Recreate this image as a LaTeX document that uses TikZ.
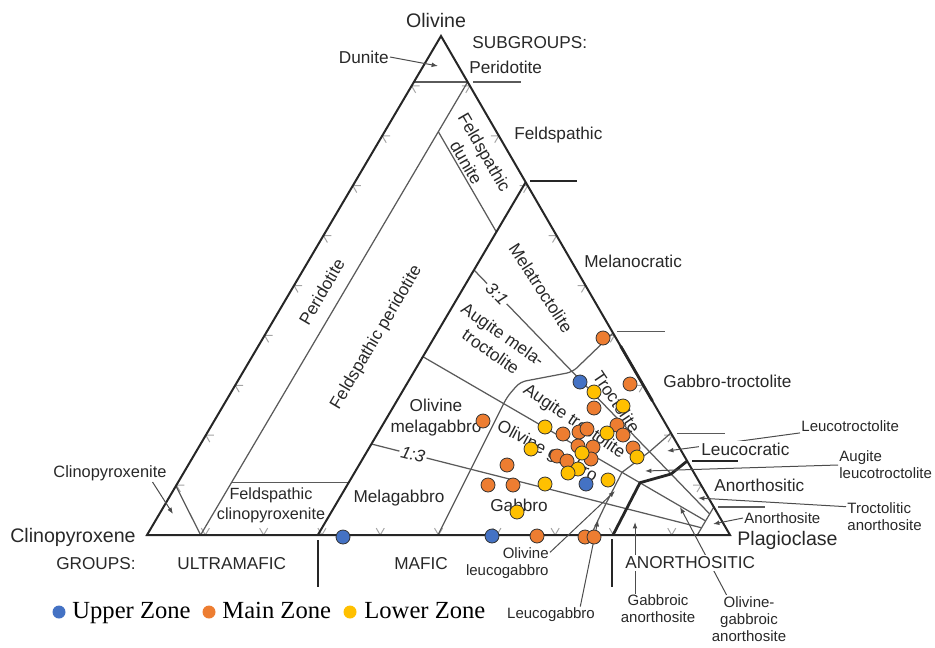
\documentclass[tikz,border=0pt]{standalone}
\usepackage{fontspec}
\setmainfont{Liberation Sans}
\newfontfamily\legendfont{Liberation Serif}
\usetikzlibrary{arrows.meta}

\definecolor{zoneUp}{RGB}{68,114,196}
\definecolor{zoneMain}{RGB}{237,125,49}
\definecolor{zoneLow}{RGB}{255,192,0}
\definecolor{txt}{RGB}{40,40,40}
\definecolor{grid}{RGB}{90,90,90}
\definecolor{tickgray}{RGB}{165,165,165}

\begin{document}
\begin{tikzpicture}[
    x=0.5pt,
    y=-0.5pt,
    >={Latex[length=3.2pt,width=2.4pt]},
    rim/.style={line width=1pt, black!85},
    divide/.style={line width=0.62pt, grid},
    heavy/.style={line width=1.4pt, black!85},
    chev/.style={line width=0.5pt, tickgray},
    ptr/.style={->, line width=0.5pt, black!70},
    lab/.style={font=\fontsize{8.6}{10.5}\selectfont, text=txt, inner sep=0.5pt, align=center},
    big/.style={lab, font=\fontsize{9.8}{11}\selectfont},
    sml/.style={lab, font=\fontsize{7.5}{8.6}\selectfont},
    cut/.style={fill=white, inner sep=1pt},
    ratio/.style={lab, cut, font=\fontsize{8.6}{10}\selectfont\itshape},
    sample/.style={draw=black!80, line width=0.4pt},
    key/.style={circle, minimum size=6.5pt, inner sep=0pt},
    keytext/.style={font=\legendfont\fontsize{12.3}{14}\selectfont, text=black, inner sep=0pt}
  ]
  \useasboundingbox (0,0) rectangle (935,647);
  \coordinate (Cpx) at (147,535);
  \coordinate (Ol) at (441,36);
  \coordinate (Pl) at (730,535);

  \foreach \k in {1,...,9} {
    \draw[chev] ({147+29.4*\k+8},{535-49.9*\k}) -- ++(-8,0) -- ++(4,6.9);
    \draw[chev] ({441+28.9*\k-8},{36+49.9*\k}) -- ++(8,0) -- ++(-4.1,6.9);
    \draw[chev] ({147+58.3*\k-4},528.1) -- ++(4,6.9) -- ++(4.1,-6.9);
  }

  \draw[divide] (413.9,82) -- (467.6,82);
  \draw[divide] (467.6,82) -- (200.6,535);
  \draw[divide] (438.3,131.7) -- (496.4,232);
  \draw[divide] (175.5,485) -- (200.6,535);
  \draw[divide] (231.6,482.3) -- (348.8,482.3);
  \draw[divide] (474,270) -- (709.7,514);
  \draw[divide] (422.9,356.7) -- (705.6,520.9);
  \draw[divide] (371.4,444) -- (701.6,527.8);
  \draw[divide, rounded corners=3pt] (438,535) -- (507,397) -- (520,382)
    -- (572.5,372) -- (613,333);
  \draw[divide] (670.9,433) -- (649.5,451.7) -- (622,472.3) -- (606,503.5) -- (591,535);
  \draw[divide] (713.8,507) -- (697.3,535);
  \draw[heavy] (687.2,461) -- (671,474) -- (640,482.7) -- (613,535);
  \draw[rim] (525.7,182.2) -- (317.8,535);
  \draw[rim] (Cpx) -- (Ol) -- (Pl) -- cycle;
  \draw[heavy] (620.6,346) -- (652.4,401);
  \draw[heavy] (460,535) -- (530,535);

  \draw[divide] (473,82) -- (521,82);
  \draw[rim] (530,180.5) -- (577,180.5);
  \draw[divide] (617,331.7) -- (665,331.7);
  \draw[divide] (677,433.3) -- (725,433.3);
  \draw[rim] (692,461) -- (738,461);
  \draw[divide] (718,507) -- (765,507);
  \draw[rim] (318,540) -- (318,587);
  \draw[rim] (612,539) -- (612,587);

  \node[big] (olivine) at (436,20) {Olivine};
  \node[big, anchor=east] (clinopyroxene) at (137,537) {Clinopyroxene};
  \node[big, anchor=west] (plagioclase) at (736,540) {Plagioclase};
  \node[lab, anchor=west] (subgroups) at (471,43) {SUBGROUPS:};
  \node[lab, anchor=west] (sgPeridotite) at (468,67) {Peridotite};
  \node[lab, anchor=west] (sgFeldspathic) at (513,135) {Feldspathic};
  \node[lab, anchor=west] (sgMelanocratic) at (583,261) {Melanocratic};
  \node[lab, anchor=west] (sgGabbroTroc) at (662,381) {Gabbro-troctolite};
  \node[lab, anchor=west] (sgAnorthositic) at (713,485) {Anorthositic};
  \node[lab, anchor=east] (groups) at (137,564) {GROUPS:};
  \node[lab, anchor=west] (grpUltramafic) at (176,564) {ULTRAMAFIC};
  \node[lab, anchor=west] (grpMafic) at (393,564) {MAFIC};

  \node[lab, rotate=59.5] (peridotite) at (321.7,291.7) {Peridotite};
  \node[lab, rotate=59.5] (feldPeridotite) at (376.5,337.5) {Feldspathic peridotite};
  \node[lab, rotate=-60] (feldDunite) at (475.5,157.5) {Feldspathic\\dunite};
  \node[lab, font=\fontsize{8.1}{10}\selectfont] (feldCpxite) at (271,505)
    {Feldspathic\\clinopyroxenite};
  \node[lab, rotate=-57] (melatroc) at (541,288) {Melatroctolite};
  \node[lab, rotate=-35] (augMelatroc) at (497,343) {Augite mela-\\troctolite};
  \node[lab] (olMelagabbro) at (436,418) {Olivine\\melagabbro};
  \node[lab] (melagabbro) at (399,498) {Melagabbro};
  \node[lab, rotate=-56] (troctolite) at (616.7,401.7) {Troctolite};
  \node[lab, rotate=-34] (augTroc) at (574,421.7) {Augite troctolite};
  \node[lab, rotate=-28] (olGabbro) at (547,452) {Olivine gabbro};
  \node[lab] (gabbro) at (519,505) {Gabbro};
  \node[ratio, rotate=-46] (ratioOl) at (497,293.7) {3:1};
  \node[ratio, rotate=-14.2] (ratioCpx) at (413,454.5) {1:3};

  \node[lab, anchor=east] (dunite) at (390,57) {Dunite};
  \node[lab, font=\fontsize{8.2}{10}\selectfont] (cpxite) at (110,473) {Clinopyroxenite};
  \node[sml, anchor=west] (leucotroc) at (800,426) {Leucotroctolite};
  \node[sml, anchor=west, align=left] (augLeucotroc) at (838,465) {Augite\\leucotroctolite};
  \node[sml, anchor=west, align=left] (trocAnor) at (846,517) {Troctolitic\\anorthosite};
  \node[sml, anchor=west] (anorthosite) at (743,518) {Anorthosite};
  \node[sml] (gabAnor) at (658,609) {Gabbroic\\anorthosite};
  \node[sml] (olGabAnor) at (749,619) {Olivine-\\gabbroic\\anorthosite};
  \node[sml, anchor=east, align=right] (olLeucogab) at (550,563) {Olivine\\leucogabbro};
  \node[sml] (leucogab) at (551,615) {Leucogabbro};

  \coordinate (duniteTip) at (438,66);
  \coordinate (cpxiteTip) at (173,514);
  \coordinate (leucotrocTip) at (667,451);
  \coordinate (augLeucotrocTip) at (645,471);
  \coordinate (trocAnorTip) at (698,498);
  \coordinate (anorthositeTip) at (713,524);
  \coordinate (gabAnorTip) at (635,522);
  \coordinate (olGabAnorTip) at (680,507);
  \coordinate (olLeucogabTip) at (615,491);
  \coordinate (leucogabTip) at (598,520);

  \draw[ptr] (dunite.east) -- (duniteTip);
  \draw[ptr] (cpxite.-12) -- (cpxiteTip);
  \draw[ptr] (leucotroc.south west) -- (leucotrocTip);
  \draw[ptr] (augLeucotroc.west) -- (augLeucotrocTip);
  \draw[ptr] (trocAnor.165) -- (trocAnorTip);
  \draw[ptr] (anorthosite.west) -- (anorthositeTip);
  \draw[ptr] (gabAnorTip |- gabAnor.north) -- (gabAnorTip);
  \draw[ptr] (olGabAnor.133) -- (olGabAnorTip);
  \draw[ptr] (olLeucogab.14) -- (olLeucogabTip);
  \draw[ptr] (leucogab.16.5) -- (leucogabTip);

  \node[lab, cut, anchor=west] (sgLeucocratic) at (699,449) {Leucocratic};
  \node[lab, cut, anchor=west] (grpAnorthositic) at (623,563) {ANORTHOSITIC};

  \foreach \p in {(603,338),(630,384),(594,408),(483,421),(617,425),(563,434),
      (579,432),(587,429),(623,435),(633,448),(578,446),(593,447),(557,456),
      (567,461),(591,459),(507,465),(488,485),(513,485),(537,536),(585,537),(594,537)}
    \draw[sample, fill=zoneMain] \p circle[radius=7];
  \foreach \p in {(343,537),(492,536),(580,382),(586,484)}
    \draw[sample, fill=zoneUp] \p circle[radius=7];
  \foreach \p in {(594,392),(623,406),(545,427),(607,433),(637,457),(531,449),
      (582,453),(578,469),(568,473),(608,480),(545,484),(517,512)}
    \draw[sample, fill=zoneLow] \p circle[radius=7];

  \node[key, fill=zoneUp] (keyUp) at (59,612) {};
  \node[keytext, anchor=base west] (keyUpText) at (72,618.3) {Upper Zone};
  \node[key, fill=zoneMain] (keyMain) at (209,612) {};
  \node[keytext, anchor=base west] (keyMainText) at (222,618.3) {Main Zone};
  \node[key, fill=zoneLow] (keyLow) at (350,612) {};
  \node[keytext, anchor=base west] (keyLowText) at (364,618.3) {Lower Zone};
\end{tikzpicture}
\end{document}
